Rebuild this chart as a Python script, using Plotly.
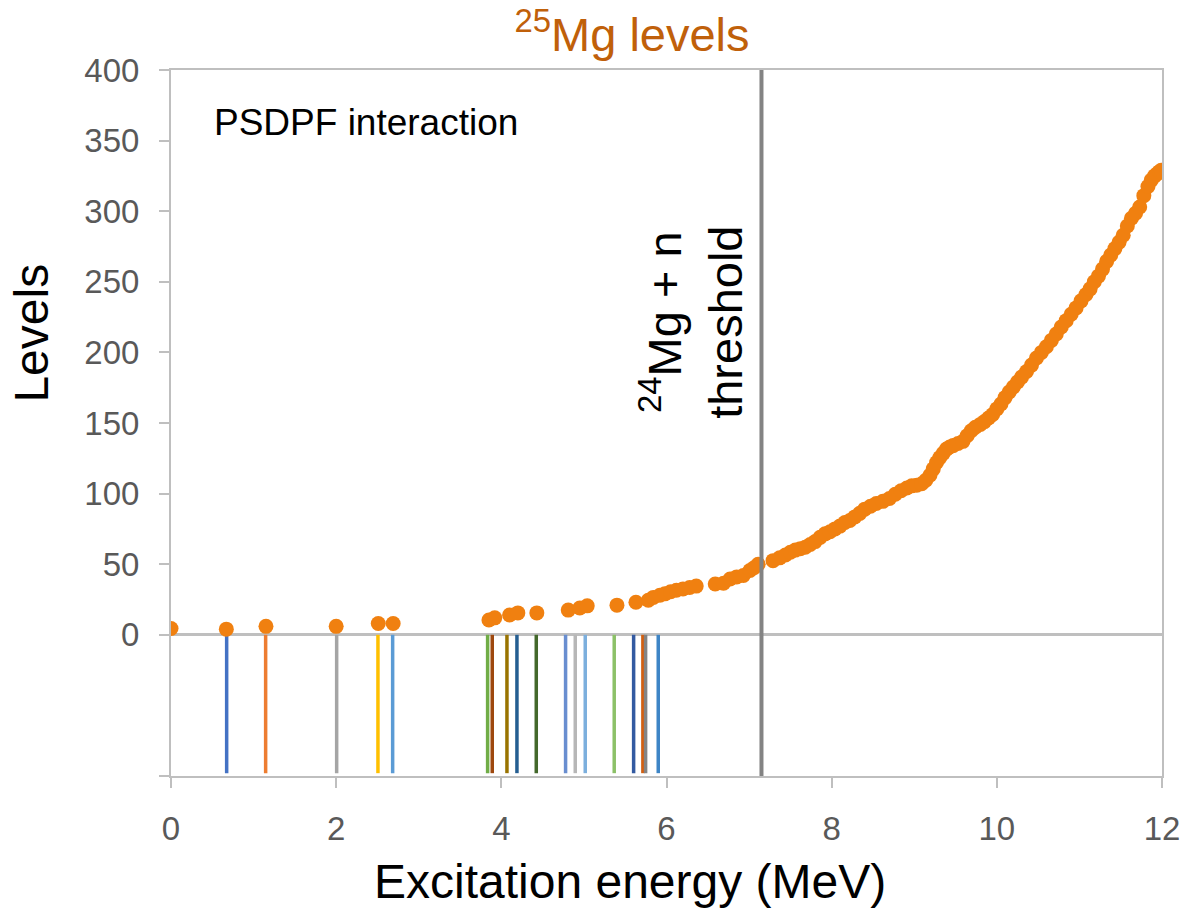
import plotly.graph_objects as go

# ---- data ----
level_energy = [0.00, 0.67, 1.15, 2.00, 2.51, 2.69, 3.85, 3.92, 4.10, 4.20, 4.43, 4.81, 4.95, 5.04,
                5.40, 5.63, 5.78, 5.84, 5.92, 5.98, 6.05, 6.12, 6.20, 6.28, 6.36, 6.59, 6.69, 6.77,
                6.85, 6.93, 7.01, 7.06, 7.11, 7.29, 7.37, 7.44, 7.50, 7.56, 7.62, 7.68, 7.74, 7.80,
                7.86, 7.92, 7.98, 8.04, 8.10, 8.16, 8.22, 8.28, 8.34, 8.40, 8.47, 8.54, 8.62, 8.70,
                8.77, 8.84, 8.91, 8.97, 9.03, 9.09, 9.14, 9.19, 9.23, 9.27, 9.31, 9.35, 9.39, 9.43,
                9.47, 9.53, 9.59, 9.64, 9.69, 9.74, 9.80, 9.85, 9.90, 9.95, 10.00, 10.05, 10.10,
                10.15, 10.20, 10.25, 10.30, 10.36, 10.42, 10.48, 10.54, 10.60, 10.66, 10.72, 10.78,
                10.84, 10.90, 10.96, 11.02, 11.08, 11.13, 11.18, 11.23, 11.28, 11.33, 11.38, 11.43,
                11.48, 11.53, 11.58, 11.63, 11.68, 11.73, 11.78, 11.83, 11.87, 11.91, 11.94, 11.97,
                11.99]
level_count = [4.5, 4, 6, 6, 8, 8, 10.5, 12, 14, 15.5, 15.5, 17.5, 19, 20.5,
               21, 23, 24.5, 26.5, 28, 29, 30.5, 31.5, 32.5, 33.5, 34.5, 36, 36.5, 39.5,
               41, 42, 45.5, 47.5, 50, 52.5, 54.5, 56.5, 58.5, 60, 61, 62, 64, 66,
               69, 71.5, 73, 75, 77, 79.5, 81, 83.5, 86, 89, 91, 93, 94.5, 96.5,
               99.5, 102, 104, 105.5, 106, 107, 109.5, 113, 117.5, 122, 125.5, 128.5, 131.5, 133,
               134, 135.5, 137, 141, 144.5, 147, 149, 151, 153.5, 156, 160, 163.5, 168,
               172, 175.5, 179, 182.5, 186.5, 191, 196, 200, 204, 208.5, 213, 218,
               222.5, 227, 231.5, 236.5, 241, 245, 250, 254, 259, 264.5, 269, 273.5,
               278, 283, 289.5, 295, 298.5, 303, 311, 317.5, 322, 325, 326.5, 328,
               329]

exp_energy = [0.674, 1.146, 2.006, 2.506, 2.684, 3.834, 3.890, 4.068, 4.189, 4.423,
              4.778, 4.895, 5.016, 5.367, 5.602, 5.714, 5.747, 5.900]
exp_colors = ["#4472C4", "#ED7D31", "#A5A5A5", "#FFC000", "#5B9BD5", "#70AD47", "#9E480E",
              "#997300", "#255E91", "#43682B", "#698ED0", "#B7B7B7", "#7CAFDD", "#8CC168",
              "#335AA1", "#D26012", "#848484", "#3E85C6"]
exp_line_bottom = -98

threshold_energy = 7.15

x_ticks = [0, 2, 4, 6, 8, 10, 12]
y_tickvals = [-100, 0, 50, 100, 150, 200, 250, 300, 350, 400]
y_ticktext = ["", "0", "50", "100", "150", "200", "250", "300", "350", "400"]

FONT = "Liberation Sans, Arial, sans-serif"
fig = go.Figure()

for e, c in zip(exp_energy, exp_colors):
    fig.add_trace(go.Scatter(x=[e, e], y=[0, exp_line_bottom], mode="lines",
                             line=dict(color=c, width=3.5), showlegend=False, hoverinfo="skip"))

fig.add_trace(go.Scatter(x=level_energy, y=level_count, mode="markers",
                         marker=dict(color="#F08010", size=15, line=dict(width=0)),
                         showlegend=False))

fig.add_trace(go.Scatter(x=[threshold_energy, threshold_energy], y=[-101, 401], mode="lines",
                         line=dict(color="#838383", width=4), showlegend=False, hoverinfo="skip"))

fig.update_layout(
    width=1188, height=920,
    margin=dict(l=171, r=26, t=70, b=144, autoexpand=False),
    paper_bgcolor="white", plot_bgcolor="white",
    font=dict(family=FONT, color="#595959"),
    title=dict(text="<sup>25</sup>Mg levels", font=dict(size=47, color="#C0600A", family=FONT),
               xref="container", yref="container", x=632 / 1188, xanchor="center",
               y=1 - 35 / 920, yanchor="middle"),
    xaxis=dict(range=[0, 12], tickvals=x_ticks, showgrid=False, zeroline=False,
               showline=True, linecolor="#BFBFBF", linewidth=2, mirror=True,
               ticks="outside", ticklen=10, tickwidth=2, tickcolor="#BFBFBF",
               ticklabelstandoff=12, automargin=False,
               tickfont=dict(size=33, color="#595959", family=FONT)),
    yaxis=dict(range=[-100, 400], tickvals=y_tickvals, ticktext=y_ticktext, showgrid=False,
               zeroline=True, zerolinecolor="#BFBFBF", zerolinewidth=3,
               showline=True, linecolor="#BFBFBF", linewidth=2, mirror=True,
               ticks="outside", ticklen=10, tickwidth=2, tickcolor="#BFBFBF",
               ticklabelstandoff=13, automargin=False,
               tickfont=dict(size=33, color="#595959", family=FONT)),
    annotations=[
        dict(text="Excitation energy (MeV)", xref="paper", yref="paper", x=0.463, y=-0.150,
             showarrow=False, font=dict(size=48, color="black", family=FONT),
             xanchor="center", yanchor="middle"),
        dict(text="Levels", xref="paper", yref="paper", x=-0.141, y=0.627, textangle=-90,
             showarrow=False, font=dict(size=48, color="black", family=FONT),
             xanchor="center", yanchor="middle"),
        dict(text="PSDPF interaction", xref="x", yref="y", x=0.5, y=363,
             showarrow=False, font=dict(size=37, color="black", family=FONT),
             xanchor="left", yanchor="middle"),
        dict(text="<sup>24</sup>Mg + n<br>threshold", xref="x", yref="y", x=6.31, y=221,
             textangle=-90, showarrow=False, font=dict(size=47, color="black", family=FONT),
             xanchor="center", yanchor="middle"),
    ],
)

fig.write_html("out.html")
